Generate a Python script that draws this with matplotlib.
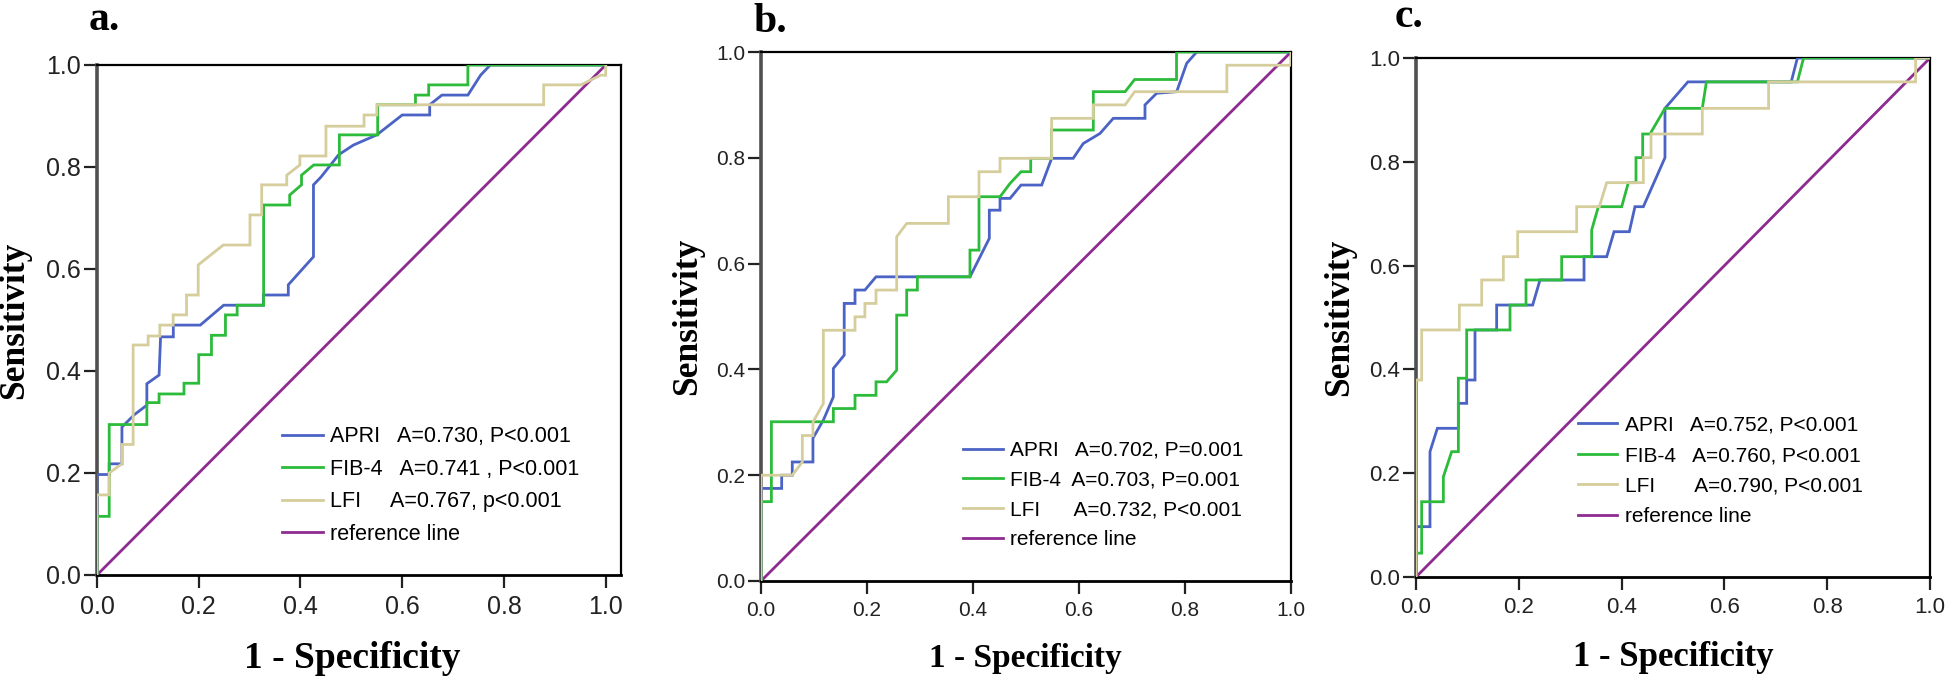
import matplotlib
matplotlib.use("Agg")
import matplotlib.pyplot as plt

# ---------------- data (1 - specificity, sensitivity) ----------------
# Panel a
a_apri_x = [0, 0, 0.024, 0.024, 0.049, 0.049, 0.073, 0.098, 0.098, 0.122, 0.125, 0.15, 0.15, 0.203, 0.249,
            0.327, 0.327, 0.376, 0.376, 0.4255, 0.4255, 0.44, 0.475, 0.504, 0.55, 0.6, 0.654, 0.654, 0.678,
            0.729, 0.754, 0.773, 1.0]
a_apri_y = [0, 0.197, 0.197, 0.218, 0.218, 0.29, 0.314, 0.333, 0.375, 0.392, 0.467, 0.467, 0.49, 0.49, 0.529,
            0.529, 0.549, 0.549, 0.569, 0.624, 0.765, 0.78, 0.824, 0.843, 0.863, 0.902, 0.902, 0.922, 0.941,
            0.941, 0.98, 1.0, 1.0]
a_fib4_x = [0, 0, 0.024, 0.024, 0.098, 0.098, 0.122, 0.122, 0.171, 0.171, 0.2, 0.2, 0.225, 0.225, 0.2525,
            0.2525, 0.2755, 0.2755, 0.3275, 0.3275, 0.3787, 0.3787, 0.402, 0.402, 0.426, 0.4764, 0.4764,
            0.5517, 0.5517, 0.626, 0.626, 0.652, 0.652, 0.729, 0.729, 1.0]
a_fib4_y = [0, 0.115, 0.115, 0.295, 0.295, 0.338, 0.338, 0.355, 0.355, 0.376, 0.376, 0.432, 0.432, 0.47, 0.47,
            0.51, 0.51, 0.529, 0.529, 0.7255, 0.7255, 0.745, 0.765, 0.784, 0.804, 0.804, 0.863, 0.863, 0.922,
            0.922, 0.941, 0.941, 0.961, 0.961, 1.0, 1.0]
a_lfi_x = [0, 0, 0.024, 0.024, 0.049, 0.049, 0.071, 0.071, 0.1005, 0.1005, 0.1235, 0.1235, 0.1497, 0.1497,
           0.176, 0.176, 0.1989, 0.1989, 0.2482, 0.3007, 0.3007, 0.3237, 0.3237, 0.373, 0.373, 0.3988, 0.3988,
           0.45, 0.45, 0.5249, 0.5249, 0.55, 0.55, 0.878, 0.878, 0.951, 0.99, 1.0, 1.0]
a_lfi_y = [0, 0.157, 0.157, 0.2, 0.218, 0.256, 0.256, 0.451, 0.451, 0.4686, 0.4686, 0.49, 0.49, 0.51, 0.51,
           0.549, 0.549, 0.608, 0.647, 0.647, 0.706, 0.706, 0.765, 0.765, 0.784, 0.804, 0.8216, 0.8216, 0.88,
           0.88, 0.902, 0.902, 0.922, 0.922, 0.961, 0.961, 0.98, 0.98, 1.0]

# Panel b
b_apri_x = [0, 0, 0.039, 0.039, 0.059, 0.059, 0.098, 0.098, 0.1176, 0.1365, 0.1365, 0.157, 0.157, 0.1774,
            0.1774, 0.196, 0.217, 0.3943, 0.4308, 0.4308, 0.451, 0.451, 0.47, 0.4906, 0.5296, 0.5484, 0.589,
            0.608, 0.6396, 0.6647, 0.7245, 0.7245, 0.7465, 0.7843, 0.8032, 0.822, 1.0]
b_apri_y = [0, 0.175, 0.175, 0.2, 0.2, 0.225, 0.225, 0.27, 0.304, 0.348, 0.4017, 0.427, 0.5247, 0.5247, 0.55,
            0.55, 0.575, 0.575, 0.6477, 0.701, 0.701, 0.7233, 0.7233, 0.7485, 0.7485, 0.799, 0.799, 0.827,
            0.846, 0.8746, 0.8746, 0.9, 0.922, 0.925, 0.9786, 1.0, 1.0]
b_fib4_x = [0, 0, 0.0196, 0.0196, 0.1365, 0.1365, 0.1774, 0.1774, 0.217, 0.217, 0.237, 0.256, 0.256, 0.2749,
            0.2749, 0.295, 0.295, 0.3943, 0.3943, 0.4113, 0.4113, 0.451, 0.47, 0.4906, 0.5089, 0.5089, 0.5484,
            0.5484, 0.627, 0.627, 0.687, 0.705, 0.784, 0.784, 1.0]
b_fib4_y = [0, 0.15, 0.15, 0.301, 0.301, 0.326, 0.326, 0.351, 0.351, 0.3765, 0.3765, 0.3985, 0.5026, 0.5026,
            0.55, 0.55, 0.575, 0.575, 0.6255, 0.6255, 0.7264, 0.7264, 0.7517, 0.7737, 0.7737, 0.799, 0.799,
            0.8525, 0.8525, 0.925, 0.925, 0.948, 0.948, 1.0, 1.0]
b_lfi_x = [0, 0, 0.059, 0.078, 0.078, 0.098, 0.098, 0.1176, 0.1176, 0.1774, 0.1774, 0.196, 0.196, 0.217, 0.217,
           0.256, 0.256, 0.2749, 0.3535, 0.3535, 0.4113, 0.4113, 0.451, 0.451, 0.5484, 0.5484, 0.627, 0.627,
           0.687, 0.705, 0.879, 0.879, 1.0, 1.0]
b_lfi_y = [0, 0.2, 0.2, 0.225, 0.275, 0.275, 0.3, 0.3356, 0.474, 0.474, 0.4994, 0.4994, 0.5247, 0.5247, 0.55,
           0.55, 0.6507, 0.676, 0.676, 0.7264, 0.7264, 0.7737, 0.7737, 0.799, 0.799, 0.8746, 0.8746, 0.9, 0.9,
           0.925, 0.925, 0.975, 0.975, 1.0]

# Panel c
c_apri_x = [0, 0, 0.0272, 0.0272, 0.0416, 0.0824, 0.0824, 0.0986, 0.0986, 0.1148, 0.1148, 0.1569, 0.1569,
            0.227, 0.2412, 0.3269, 0.3269, 0.371, 0.3853, 0.415, 0.426, 0.4423, 0.4844, 0.4844, 0.529, 0.73,
            0.742, 1.0]
c_apri_y = [0, 0.097, 0.097, 0.2415, 0.2865, 0.2865, 0.3346, 0.3346, 0.3796, 0.3796, 0.476, 0.476, 0.524,
            0.524, 0.5723, 0.5723, 0.6172, 0.6172, 0.6653, 0.6653, 0.7135, 0.7135, 0.808, 0.903, 0.954, 0.954,
            1.0, 1.0]
c_fib4_x = [0, 0, 0.011, 0.011, 0.0532, 0.0532, 0.0694, 0.0824, 0.0824, 0.0986, 0.0986, 0.1829, 0.1829, 0.214,
            0.214, 0.2834, 0.2834, 0.3418, 0.3418, 0.3548, 0.4002, 0.4131, 0.428, 0.428, 0.441, 0.441, 0.4553,
            0.4844, 0.557, 0.565, 0.742, 0.754, 1.0]
c_fib4_y = [0, 0.046, 0.046, 0.145, 0.145, 0.193, 0.2415, 0.2415, 0.383, 0.383, 0.476, 0.476, 0.524, 0.524,
            0.5723, 0.5723, 0.6172, 0.6172, 0.6686, 0.7135, 0.7135, 0.7598, 0.7598, 0.808, 0.808, 0.8536,
            0.8536, 0.903, 0.903, 0.954, 0.954, 1.0, 1.0]
c_lfi_x = [0, 0, 0.011, 0.011, 0.0843, 0.0843, 0.1278, 0.1278, 0.1699, 0.1699, 0.1978, 0.1978, 0.3126, 0.3126,
           0.3567, 0.371, 0.4423, 0.4423, 0.4572, 0.4572, 0.557, 0.557, 0.686, 0.686, 0.972, 0.972, 1.0]
c_lfi_y = [0, 0.3796, 0.3796, 0.476, 0.476, 0.524, 0.524, 0.5723, 0.5723, 0.6172, 0.6172, 0.6653, 0.6653,
           0.7135, 0.7135, 0.7598, 0.7598, 0.808, 0.808, 0.8536, 0.8536, 0.903, 0.903, 0.954, 0.954, 1.0, 1.0]

ref_x = [0, 1]
ref_y = [0, 1]

panel_letters = ["a.", "b.", "c."]
series_names = ["APRI", "FIB-4", "LFI", "reference line"]
a_labels = ["APRI   A=0.730, P<0.001", "FIB-4   A=0.741 , P<0.001", "LFI     A=0.767, p<0.001",
            "reference line"]
b_labels = ["APRI   A=0.702, P=0.001", "FIB-4  A=0.703, P=0.001", "LFI      A=0.732, P<0.001",
            "reference line"]
c_labels = ["APRI   A=0.752, P<0.001", "FIB-4   A=0.760, P<0.001", "LFI       A=0.790, P<0.001",
            "reference line"]
ticks = [0.0, 0.2, 0.4, 0.6, 0.8, 1.0]
tick_labels = ["0.0", "0.2", "0.4", "0.6", "0.8", "1.0"]

# ---------------- style ----------------
C_APRI = "#4a63c4"
C_FIB4 = "#2cbb3a"
C_LFI = "#d5cd9c"
C_REF = "#8e2b90"
SANS = ["Liberation Sans", "DejaVu Sans"]
SERIF = ["Liberation Serif", "DejaVu Serif"]

W, H = 1946, 684
fig = plt.figure(figsize=(W / 100, H / 100), dpi=100)


def px_axes(left, top, right, bottom):
    return fig.add_axes([left / W, 1 - bottom / H, (right - left) / W, (bottom - top) / H])


panels = [
    dict(box=(97, 65, 621, 575), xmax=1.03, data=[(a_apri_x, a_apri_y), (a_fib4_x, a_fib4_y), (a_lfi_x, a_lfi_y)],
         labels=a_labels, tick_fs=18, leg_fs=15.5, leg_anchor=(0.353, 0.292), leg_spacing=0.54,
         ylab_x=-0.158, xlab_y=-0.163, xlab_x=0.488, xlab_fs=27, letter=(89, 30)),
    dict(box=(761, 52, 1291, 581), xmax=1.0, data=[(b_apri_x, b_apri_y), (b_fib4_x, b_fib4_y), (b_lfi_x, b_lfi_y)],
         labels=b_labels, tick_fs=15, leg_fs=15, leg_anchor=(0.381, 0.265), leg_spacing=0.52,
         ylab_x=-0.138, xlab_y=-0.146, xlab_x=0.499, xlab_fs=24, letter=(753, 32)),
    dict(box=(1416, 58, 1930, 577), xmax=1.0, data=[(c_apri_x, c_apri_y), (c_fib4_x, c_fib4_y), (c_lfi_x, c_lfi_y)],
         labels=c_labels, tick_fs=16, leg_fs=15, leg_anchor=(0.315, 0.311), leg_spacing=0.55,
         ylab_x=-0.148, xlab_y=-0.156, xlab_x=0.501, xlab_fs=25, letter=(1395, 27)),
]

for i, p in enumerate(panels):
    ax = px_axes(*p["box"])
    colors = [C_APRI, C_FIB4, C_LFI]
    handles = []
    for (xs, ys), col, name in zip(p["data"], colors, series_names):
        h, = ax.plot(xs, ys, color=col, lw=2.0, solid_joinstyle="miter", zorder=3)
        handles.append(h)
    h, = ax.plot(ref_x, ref_y, color=C_REF, lw=2.0, zorder=2)
    handles.append(h)

    ax.set_xlim(0, p["xmax"])
    ax.set_ylim(0, 1.0)
    ax.set_xticks(ticks)
    ax.set_xticklabels(tick_labels)
    ax.set_yticks(ticks)
    ax.set_yticklabels(tick_labels)
    ax.tick_params(axis="both", direction="out", length=9.5, width=1.6, color="#222222",
                   labelsize=p["tick_fs"], labelcolor="#222222")
    ax.tick_params(axis="y", pad=2)
    ax.tick_params(axis="x", pad=5)
    for lab in ax.get_xticklabels() + ax.get_yticklabels():
        lab.set_family(SANS)

    for side, sp in ax.spines.items():
        sp.set_color("black")
        sp.set_linewidth(1.6)
    ax.spines["left"].set_color("#505050")
    ax.spines["left"].set_linewidth(2.6)
    ax.spines["bottom"].set_linewidth(2.0)

    ax.set_ylabel("Sensitivity", family=SERIF, fontweight="bold", fontsize=25.5)
    ax.yaxis.set_label_coords(p["ylab_x"], 0.5)
    ax.yaxis.label.set_va("center")
    ax.set_xlabel("1 - Specificity", family=SERIF, fontweight="bold", fontsize=p["xlab_fs"])
    ax.xaxis.set_label_coords(p["xlab_x"], p["xlab_y"])
    ax.xaxis.label.set_va("center")

    fs = p["leg_fs"]
    ax.legend(handles, p["labels"], loc="upper left", bbox_to_anchor=p["leg_anchor"],
              bbox_transform=ax.transAxes, frameon=False, borderpad=0, borderaxespad=0,
              handlelength=1.9, handletextpad=0.35, labelspacing=p["leg_spacing"],
              prop={"family": SANS, "size": fs})

    lx, ly = p["letter"]
    fig.text(lx / W, 1 - ly / H, panel_letters[i], family=SERIF, fontweight="bold", fontsize=30,
             ha="left", va="baseline")

fig.savefig("out.png", dpi=100)
